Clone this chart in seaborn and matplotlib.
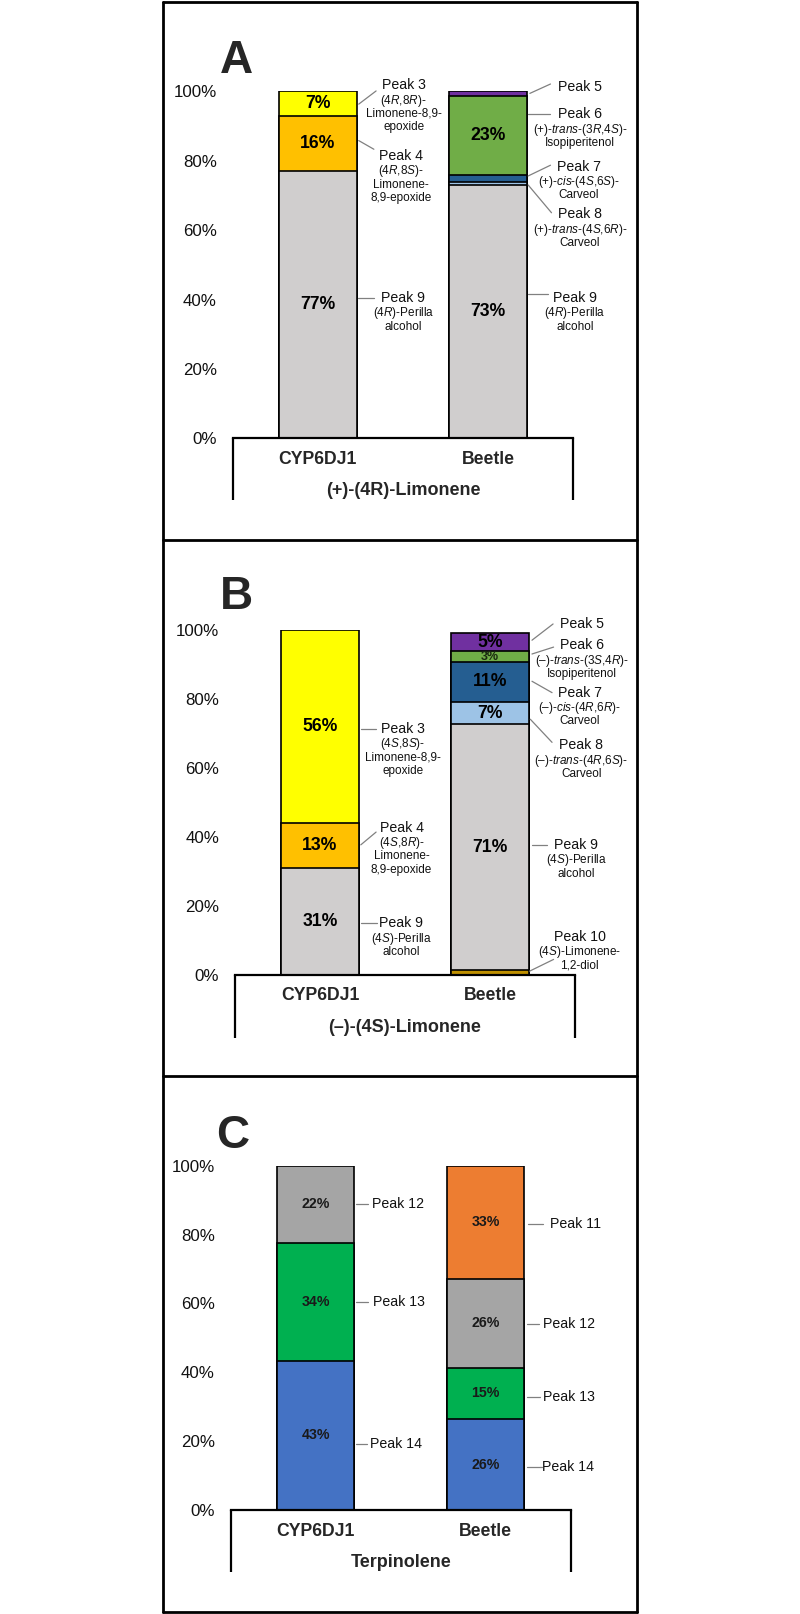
import matplotlib
matplotlib.use("Agg")
import matplotlib.pyplot as plt
from matplotlib.lines import Line2D
import pandas as pd
import seaborn as sns

samples = ["CYP6DJ1", "Beetle"]
substrates = ["(+)-(4R)-Limonene", "(–)-(4S)-Limonene", "Terpinolene"]
panel_letters = ["A", "B", "C"]
y_ticks = [0, 20, 40, 60, 80, 100]

# product distribution (%), segments listed bottom -> top
a_cyp_peaks = ["Peak 9", "Peak 4", "Peak 3"]
a_cyp_vals = [77, 16, 7]
a_beetle_peaks = ["Peak 9", "Peak 8", "Peak 7", "Peak 6", "Peak 5"]
a_beetle_vals = [73, 0.9, 2.0, 22.8, 1.3]

b_cyp_peaks = ["Peak 9", "Peak 4", "Peak 3"]
b_cyp_vals = [31, 13, 56]
b_beetle_peaks = ["Peak 10", "Peak 9", "Peak 8", "Peak 7", "Peak 6", "Peak 5"]
b_beetle_vals = [1.2, 71.3, 6.6, 11.4, 3.2, 5.3]

c_cyp_peaks = ["Peak 14", "Peak 13", "Peak 12"]
c_cyp_vals = [43.4, 34.2, 22.4]
c_beetle_peaks = ["Peak 14", "Peak 13", "Peak 12", "Peak 11"]
c_beetle_vals = [26.4, 14.9, 25.9, 32.8]

limonene_colors = {"Peak 3": "#FFFF00", "Peak 4": "#FFC000", "Peak 5": "#7030A0",
                   "Peak 6": "#70AD47", "Peak 7": "#255E91", "Peak 8": "#9DC3E6",
                   "Peak 9": "#D0CECE", "Peak 10": "#BF9000"}
terp_colors = {"Peak 11": "#ED7D31", "Peak 12": "#A5A5A5", "Peak 13": "#00B050",
               "Peak 14": "#4472C4"}


def it(t):
    return r"$\mathit{" + t + "}$"


# peak descriptions (text under "Peak N")
a_desc = {
    ("CYP6DJ1", "Peak 3"): [f"(4{it('R')},8{it('R')})-", "Limonene-8,9-", "epoxide"],
    ("CYP6DJ1", "Peak 4"): [f"(4{it('R')},8{it('S')})-", "Limonene-", "8,9-epoxide"],
    ("CYP6DJ1", "Peak 9"): [f"(4{it('R')})-Perilla", "alcohol"],
    ("Beetle", "Peak 5"): [],
    ("Beetle", "Peak 6"): [f"(+)-{it('trans')}-(3{it('R')},4{it('S')})-", "Isopiperitenol"],
    ("Beetle", "Peak 7"): [f"(+)-{it('cis')}-(4{it('S')},6{it('S')})-", "Carveol"],
    ("Beetle", "Peak 8"): [f"(+)-{it('trans')}-(4{it('S')},6{it('R')})-", "Carveol"],
    ("Beetle", "Peak 9"): [f"(4{it('R')})-Perilla", "alcohol"],
}
b_desc = {
    ("CYP6DJ1", "Peak 3"): [f"(4{it('S')},8{it('S')})-", "Limonene-8,9-", "epoxide"],
    ("CYP6DJ1", "Peak 4"): [f"(4{it('S')},8{it('R')})-", "Limonene-", "8,9-epoxide"],
    ("CYP6DJ1", "Peak 9"): [f"(4{it('S')})-Perilla", "alcohol"],
    ("Beetle", "Peak 5"): [],
    ("Beetle", "Peak 6"): [f"(–)-{it('trans')}-(3{it('S')},4{it('R')})-", "Isopiperitenol"],
    ("Beetle", "Peak 7"): [f"(–)-{it('cis')}-(4{it('R')},6{it('R')})-", "Carveol"],
    ("Beetle", "Peak 8"): [f"(–)-{it('trans')}-(4{it('R')},6{it('S')})-", "Carveol"],
    ("Beetle", "Peak 9"): [f"(4{it('S')})-Perilla", "alcohol"],
    ("Beetle", "Peak 10"): [f"(4{it('S')})-Limonene-", "1,2-diol"],
}

# label layout: (sample, peak, text pos, leader start, leader end) in data units
a_layout = [
    ("CYP6DJ1", "Peak 3", (0.504, 101.8), (0.24, 96.3), (0.342, 100.1)),
    ("CYP6DJ1", "Peak 4", (0.49, 81.4), (0.24, 85.8), (0.329, 83.3)),
    ("CYP6DJ1", "Peak 9", (0.502, 40.5), (0.237, 40.5), (0.331, 40.5)),
    ("Beetle", "Peak 5", (1.539, 101.3), (1.245, 99.4), (1.366, 102.1)),
    ("Beetle", "Peak 6", (1.539, 93.4), (1.235, 93.6), (1.366, 93.6)),
    ("Beetle", "Peak 7", (1.533, 78.3), (1.235, 75.6), (1.366, 78.7)),
    ("Beetle", "Peak 8", (1.539, 64.5), (1.235, 73.0), (1.372, 65.0)),
    ("Beetle", "Peak 9", (1.509, 40.5), (1.235, 41.5), (1.352, 41.5)),
]
b_layout = [
    ("CYP6DJ1", "Peak 3", (0.487, 71.2), (0.24, 71.2), (0.331, 71.2)),
    ("CYP6DJ1", "Peak 4", (0.48, 42.6), (0.24, 37.6), (0.33, 41.3)),
    ("CYP6DJ1", "Peak 9", (0.476, 14.9), (0.24, 14.9), (0.335, 14.9)),
    ("Beetle", "Peak 5", (1.541, 101.6), (1.247, 96.9), (1.371, 101.6)),
    ("Beetle", "Peak 6", (1.541, 95.4), (1.247, 92.9), (1.374, 94.9)),
    ("Beetle", "Peak 7", (1.527, 81.7), (1.247, 85.0), (1.365, 81.7)),
    ("Beetle", "Peak 8", (1.537, 66.5), (1.237, 74.0), (1.365, 67.3)),
    ("Beetle", "Peak 9", (1.506, 37.6), (1.247, 37.6), (1.335, 37.6)),
    ("Beetle", "Peak 10", (1.527, 11.0), (1.233, 1.0), (1.374, 4.4)),
]
c_layout = [
    ("CYP6DJ1", "Peak 12", (0.329, 88.8), (0.237, 88.8), (0.309, 88.8)),
    ("CYP6DJ1", "Peak 13", (0.335, 60.4), (0.237, 60.4), (0.309, 60.4)),
    ("CYP6DJ1", "Peak 14", (0.319, 19.3), (0.237, 19.3), (0.303, 19.3)),
    ("Beetle", "Peak 11", (1.378, 83.2), (1.251, 83.2), (1.339, 83.2)),
    ("Beetle", "Peak 12", (1.336, 54.0), (1.245, 54.0), (1.315, 54.0)),
    ("Beetle", "Peak 13", (1.339, 32.7), (1.245, 32.7), (1.32, 32.7)),
    ("Beetle", "Peak 14", (1.333, 12.4), (1.241, 12.4), (1.33, 12.4)),
]

sns.set_style("white")
plt.rcParams["font.family"] = ["Liberation Sans", "DejaVu Sans"]
plt.rcParams["mathtext.fontset"] = "custom"
plt.rcParams["mathtext.rm"] = "Liberation Sans"
plt.rcParams["mathtext.it"] = "Liberation Sans:italic"
plt.rcParams["mathtext.bf"] = "Liberation Sans:bold"

W, H = 800, 1614
fig = plt.figure(figsize=(W / 100, H / 100), dpi=100)

# axes placement in pixels: left, right, y(100%), y(0%)
axes_px = [(232.7, 573.3, 91.3, 438.3), (235, 575, 629.5, 974.6), (230.7, 570.7, 1165.8, 1510)]
box_depth = [61.7, 63.1, 61.7]
letter_px = [(236, 73), (236, 609), (232.5, 1148)]


def make_df(stacks):
    rows = []
    for sample, (peaks, vals) in zip(samples, stacks):
        bottom = 0
        for p, v in zip(peaks, vals):
            rows.append(dict(sample=sample, peak=p, value=v, bottom=bottom, top=bottom + v))
            bottom += v
    return pd.DataFrame(rows)


def draw_panel(i, stacks, colors, layout, desc, pct_size, pct_color):
    l, r, y100, y0 = axes_px[i]
    ax = fig.add_axes([l / W, 1 - y0 / H, (r - l) / W, (y0 - y100) / H])
    df = make_df(stacks)
    # stacked bars: draw cumulative tops from highest to lowest
    for _, row in df.sort_values("top", ascending=False).iterrows():
        sns.barplot(x=[row["sample"]], y=[row["top"]], order=samples,
                    color=colors[row["peak"]], saturation=1, width=0.455,
                    edgecolor="black", linewidth=1.2, errorbar=None, ax=ax)
    for _, row in df.iterrows():
        if round(row["value"]) >= 3:
            small = row["value"] < 4
            ax.text(samples.index(row["sample"]), row["bottom"] + row["value"] / 2,
                    f"{round(row['value'])}%", ha="center", va="center",
                    fontsize=9 if small else pct_size, fontweight="bold",
                    color="#1a2a10" if small else pct_color)

    ax.set_xlim(-0.5, 1.5)
    ax.set_ylim(0, 100)
    ax.set_yticks(y_ticks)
    ax.set_yticklabels([f"{t}%" for t in y_ticks])
    ax.tick_params(axis="y", length=0, pad=11.5, labelsize=12.2, labelcolor="#111111")
    ax.tick_params(axis="x", length=0, labelbottom=False)
    ax.set_xlabel("")
    ax.set_ylabel("")
    for s in ["left", "right", "top"]:
        ax.spines[s].set_visible(False)
    ax.spines["bottom"].set_linewidth(1.6)
    ax.spines["bottom"].set_color("black")

    # category box under the bars
    unit = (y0 - y100) / 100
    depth = box_depth[i] / unit
    for xb in (-0.5, 1.5):
        ax.plot([xb, xb], [0, -depth], color="black", lw=1.6, clip_on=False,
                solid_capstyle="butt")
    for j, s in enumerate(samples):
        ax.annotate(s, xy=(j, 0), xytext=(0, -21 * 0.72), textcoords="offset points",
                    ha="center", va="center", fontsize=12.7, fontweight="bold",
                    annotation_clip=False)
    ax.annotate(substrates[i], xy=(0.5, 0), xycoords=("axes fraction", "data"),
                xytext=(0, -52.5 * 0.72), textcoords="offset points",
                ha="center", va="center", fontsize=13, fontweight="bold",
                annotation_clip=False)

    # peak labels with leader lines
    for sample, peak, (tx, ty), (x0, y0_), (x1, y1) in layout:
        ax.plot([x0, x1], [y0_, y1], color="#808080", lw=0.9, clip_on=False)
        if desc is None:
            ax.text(tx, ty, peak, ha="left", va="center", fontsize=10.2, color="#111111")
            continue
        ax.text(tx, ty, peak, ha="center", va="center", fontsize=10.2, color="#111111")
        for k, line in enumerate(desc[(sample, peak)]):
            ax.annotate(line, xy=(tx, ty), xytext=(0, -(11.2 + 9.5 * k)),
                        textcoords="offset points", ha="center", va="center",
                        fontsize=8.5, color="#111111", annotation_clip=False)

    lx, ly = letter_px[i]
    fig.text(lx / W, 1 - ly / H, panel_letters[i], ha="center", va="baseline",
             fontsize=33, fontweight="bold")
    return ax


draw_panel(0, [(a_cyp_peaks, a_cyp_vals), (a_beetle_peaks, a_beetle_vals)],
           limonene_colors, a_layout, a_desc, 12.7, "black")
draw_panel(1, [(b_cyp_peaks, b_cyp_vals), (b_beetle_peaks, b_beetle_vals)],
           limonene_colors, b_layout, b_desc, 12.7, "black")
draw_panel(2, [(c_cyp_peaks, c_cyp_vals), (c_beetle_peaks, c_beetle_vals)],
           terp_colors, c_layout, None, 10.2, "#1a1a1a")

# outer panel frames
x_left, x_right = 162.7, 637.3
for yb in [2, 540, 1076, 1612]:
    fig.add_artist(Line2D([x_left / W, x_right / W], [1 - yb / H, 1 - yb / H],
                          color="black", lw=2.0))
for xb in [x_left, x_right]:
    fig.add_artist(Line2D([xb / W, xb / W], [1 - 2 / H, 1 - 1612 / H],
                          color="black", lw=2.0))

fig.savefig("out.png", dpi=100, facecolor="white")
